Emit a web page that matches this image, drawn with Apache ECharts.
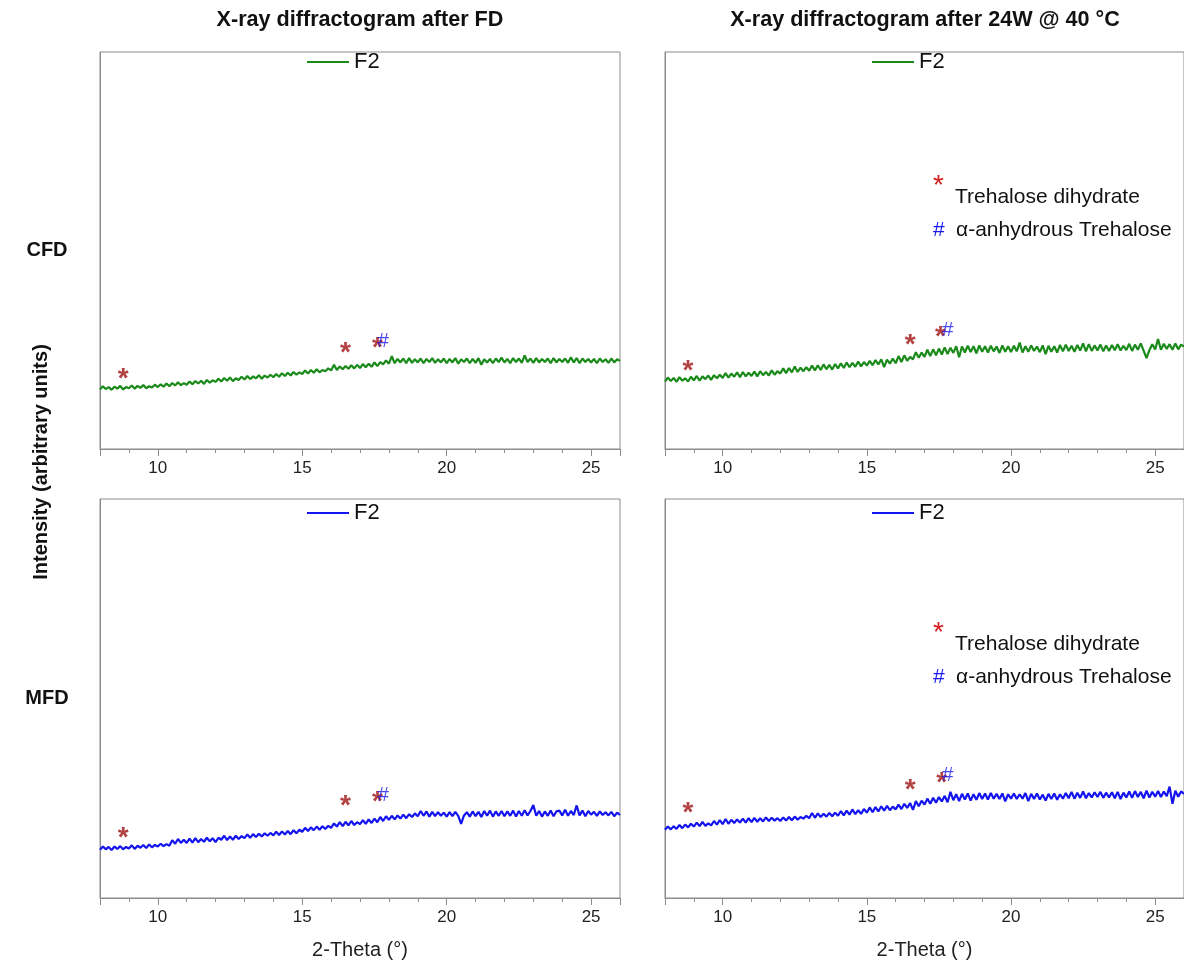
<!DOCTYPE html>
<html>
<head>
<meta charset="utf-8">
<script src="https://cdn.jsdelivr.net/npm/echarts@6/dist/echarts.min.js"></script>
<style>
  html, body { margin: 0; padding: 0; background: #fff; }
  #xrd { width: 1184px; height: 965px; }
</style>
</head>
<body>
<div id="xrd"></div>
<script>
// scan starts at 8 deg, 0.1 deg step, up to 26 deg
const thetaStart = 8;
const thetaStep = 0.1;

// intensities (arbitrary units, 0-100 panel scale)
const cfdFD = [
  15.0,15.8,15.1,15.6,14.9,15.7,15.2,15.9,15.0,15.6,
  15.3,16.0,15.2,15.9,15.4,16.1,15.3,15.8,15.5,16.2,
  15.6,16.3,15.7,16.5,15.8,16.6,16.0,16.8,16.1,16.6,
  16.2,17.0,16.3,17.1,16.5,17.2,16.4,17.4,16.7,17.3,
  16.9,17.7,17.0,17.9,17.2,18.0,17.1,17.8,17.4,18.2,
  17.5,18.4,17.6,18.3,17.8,18.6,17.7,18.5,18.0,18.7,
  18.1,18.9,18.2,19.1,18.4,19.2,18.5,19.4,18.7,19.3,
  18.9,19.8,19.0,19.9,19.2,20.1,19.3,19.9,19.6,20.3,
  19.8,21.2,19.9,20.8,20.1,20.9,20.2,21.1,20.3,21.2,
  20.4,21.4,20.6,21.5,20.7,21.8,20.9,21.9,21.3,22.3,
  21.5,23.4,21.6,22.7,21.8,22.8,21.6,22.9,21.7,22.6,
  21.8,22.8,21.6,22.7,21.9,22.9,21.7,22.6,21.8,22.8,
  21.6,22.7,21.8,22.9,21.5,22.6,21.9,22.8,21.6,22.7,
  21.7,22.9,21.2,22.6,21.8,22.7,21.6,22.8,21.9,23.0,
  21.8,22.7,21.6,22.9,21.9,22.8,21.7,23.6,21.9,22.8,
  21.7,22.9,21.8,22.7,21.9,22.8,21.6,22.9,21.8,22.7,
  21.9,22.8,21.7,23.1,21.8,22.9,21.6,22.8,21.9,22.7,
  21.8,22.7,21.6,22.8,21.9,22.6,21.7,22.8,21.8,22.6,
  22.2
];
const cfd24W = [
  17.0,18.0,17.1,17.9,16.9,18.1,17.2,17.8,17.0,18.2,
  17.3,18.4,17.2,18.3,17.6,18.5,17.4,18.6,17.8,18.7,
  17.9,19.1,18.0,19.0,18.2,19.3,18.1,19.4,18.3,19.2,
  18.4,19.5,18.3,19.6,18.6,19.4,18.5,19.8,18.7,19.6,
  19.0,20.3,19.1,20.4,19.3,20.8,19.4,20.5,19.6,20.6,
  19.7,21.0,19.8,21.1,19.9,21.3,20.1,21.2,20.0,21.4,
  20.3,21.6,20.4,21.8,20.6,21.7,20.7,22.0,20.8,21.9,
  21.0,22.2,21.1,22.4,21.3,22.6,20.6,22.5,21.5,22.8,
  21.6,23.4,21.9,23.6,22.2,23.2,22.6,24.4,23.0,24.3,
  23.2,25.0,23.4,25.1,23.6,25.3,23.8,25.6,23.9,25.5,
  24.2,25.9,23.1,25.8,24.3,26.0,24.4,25.9,24.1,26.1,
  24.5,25.9,24.3,26.0,24.6,25.8,24.2,26.1,24.5,25.9,
  24.4,26.0,24.6,26.8,24.3,25.9,24.5,26.1,24.7,25.8,
  24.4,26.1,23.9,26.0,24.5,25.9,24.3,26.2,24.6,26.3,
  24.7,26.0,24.5,26.2,24.8,26.6,24.6,26.4,24.7,26.1,
  24.8,26.3,24.6,26.1,24.7,26.2,24.9,26.4,24.8,26.0,
  24.9,26.5,24.7,26.3,25.0,26.6,24.8,22.9,24.9,26.4,
  25.1,27.7,25.0,26.5,25.2,26.4,25.0,26.6,25.1,26.3,
  25.8
];
const mfdFD = [
  12.1,12.9,12.2,12.8,12.0,12.9,12.3,13.0,12.2,12.8,
  12.4,13.2,12.3,13.1,12.6,13.3,12.5,13.4,12.7,13.3,
  12.9,13.6,13.0,13.5,13.1,14.5,13.6,14.8,13.8,14.6,
  13.8,14.9,13.9,15.0,14.0,14.8,14.1,15.1,14.2,15.0,
  14.0,15.1,14.6,15.6,14.5,15.4,14.6,15.6,14.8,15.5,
  15.0,15.9,15.1,16.0,15.3,16.1,15.4,16.2,15.6,16.3,
  15.7,16.6,15.8,16.7,15.9,16.8,16.0,17.0,16.2,17.1,
  16.6,17.6,16.8,17.7,17.0,17.9,17.1,18.0,17.3,18.1,
  17.6,18.7,17.9,19.0,18.0,19.1,18.2,19.3,18.3,19.0,
  18.5,19.5,18.6,19.7,18.8,19.9,19.0,20.3,19.3,20.5,
  19.6,20.6,19.7,20.7,19.9,20.9,20.0,21.0,20.3,21.2,
  20.5,21.8,20.6,21.7,20.4,21.6,20.5,21.5,20.6,21.4,
  20.4,21.5,20.5,21.6,20.6,18.6,20.7,21.5,20.4,21.7,
  20.5,21.6,20.3,21.8,20.6,21.9,20.4,21.7,20.6,21.8,
  20.5,21.7,20.6,21.9,20.4,21.8,20.6,22.0,20.7,21.8,
  23.3,20.6,21.8,20.4,21.7,20.6,21.9,20.5,21.7,21.9,
  20.7,22.1,20.6,21.8,20.8,23.2,20.7,21.9,20.5,21.8,
  20.9,21.6,20.6,21.7,20.8,21.5,20.7,21.6,20.5,21.4,
  20.8
];
const mfd24W = [
  17.1,17.9,17.2,18.0,17.3,18.3,17.5,18.4,17.7,18.6,
  17.9,18.9,18.0,19.1,18.1,18.7,18.2,19.3,18.4,19.5,
  18.5,19.8,18.6,19.6,18.8,19.7,18.9,19.9,18.9,20.0,
  19.0,20.1,19.1,20.0,19.2,20.2,19.3,20.1,19.4,20.0,
  19.3,20.2,19.4,20.3,19.5,20.4,19.6,20.3,19.9,20.6,
  20.0,21.3,20.1,21.2,20.3,21.1,20.4,21.3,20.5,21.4,
  20.6,21.8,20.7,21.9,20.9,22.2,21.0,22.0,21.1,22.3,
  21.4,22.7,21.5,22.8,21.7,23.0,21.9,23.1,22.0,22.9,
  22.2,23.4,22.3,23.6,22.6,23.8,22.1,24.3,23.0,24.4,
  23.4,24.9,23.6,25.1,23.9,25.3,24.2,25.6,24.0,26.6,
  24.5,26.0,24.3,26.1,24.7,26.2,24.4,26.0,24.6,26.3,
  24.8,26.2,24.7,26.3,24.9,26.1,24.8,26.2,24.2,26.0,
  24.9,26.2,24.8,26.0,24.9,26.3,24.3,26.1,24.8,26.2,
  24.7,25.9,24.4,26.1,24.8,26.2,24.6,26.0,24.9,26.3,
  25.0,26.6,24.9,26.4,25.1,26.7,25.0,26.3,25.2,26.5,
  25.3,26.6,25.1,26.4,25.2,26.5,25.0,26.6,24.8,26.4,
  25.2,26.7,25.1,26.8,25.3,26.6,25.0,26.9,25.2,26.6,
  25.4,26.8,25.3,26.7,25.5,27.9,23.6,26.9,25.4,26.7,
  26.1
];

// reflection markers [2-theta, height]
const cfdFDDihydrate = [[8.8, 19.4], [16.5, 25.9], [17.6, 27.2]];
const cfdFDAnhydrous = [[17.8, 27.7]];
const cfd24WDihydrate = [[8.8, 21.4], [16.5, 28.0], [17.55, 30.0]];
const cfd24WAnhydrous = [[17.8, 30.5]];
const mfdFDDihydrate = [[8.8, 16.7], [16.5, 24.7], [17.6, 25.7]];
const mfdFDAnhydrous = [[17.8, 26.2]];
const mfd24WDihydrate = [[8.8, 22.9], [16.5, 28.7], [17.6, 30.4]];
const mfd24WAnhydrous = [[17.8, 31.2]];

const columnTitles = ['X-ray diffractogram after FD', 'X-ray diffractogram after 24W @ 40 °C'];
const rowLabels = ['CFD', 'MFD'];

const FONT = '"Liberation Sans", Arial, sans-serif';
const GREEN = '#1a8a1a';
const BLUE = '#1414f0';
const AXIS = '#8c8c8c';

const toPairs = vals => vals.map((v, i) => [+(thetaStart + i * thetaStep).toFixed(1), v]);

const panels = [
  { left: 100, top: 52, width: 520, height: 397, legendY: 62, data: cfdFD, star: cfdFDDihydrate, hash: cfdFDAnhydrous, color: GREEN, bottom: false, note: false },
  { left: 665, top: 52, width: 522, height: 397, legendY: 62, data: cfd24W, star: cfd24WDihydrate, hash: cfd24WAnhydrous, color: GREEN, bottom: false, note: true },
  { left: 100, top: 499, width: 520, height: 399, legendY: 513, data: mfdFD, star: mfdFDDihydrate, hash: mfdFDAnhydrous, color: BLUE, bottom: true, note: false },
  { left: 665, top: 499, width: 522, height: 399, legendY: 513, data: mfd24W, star: mfd24WDihydrate, hash: mfd24WAnhydrous, color: BLUE, bottom: true, note: true }
];

const chart = echarts.init(document.getElementById('xrd'));

const series = [];
panels.forEach((p, i) => {
  series.push({
    name: 'F2',
    type: 'line',
    xAxisIndex: i,
    yAxisIndex: i,
    data: toPairs(p.data),
    symbol: 'none',
    lineStyle: { color: p.color, width: 2.2 },
    itemStyle: { color: p.color },
    z: 2
  });
  series.push({
    name: 'Trehalose dihydrate',
    type: 'scatter',
    xAxisIndex: i,
    yAxisIndex: i,
    data: p.star,
    symbolSize: 1,
    itemStyle: { color: 'rgba(0,0,0,0)' },
    label: {
      show: true, formatter: '*', position: 'inside', offset: [0, 7],
      color: '#a01414', fontSize: 28, fontWeight: 'bold', fontFamily: FONT
    },
    z: 3
  });
  series.push({
    name: 'α-anhydrous Trehalose',
    type: 'scatter',
    xAxisIndex: i,
    yAxisIndex: i,
    data: p.hash,
    symbolSize: 1,
    itemStyle: { color: 'rgba(0,0,0,0)' },
    label: {
      show: true, formatter: '#', position: 'inside', offset: [0, 2],
      color: '#1a1aee', fontSize: 21, fontFamily: FONT
    },
    z: 3
  });
});

const legends = [];
panels.forEach(p => {
  legends.push({
    data: [{ name: 'F2', itemStyle: { color: p.color } }],
    left: p.left + 207,
    top: p.legendY - 11,
    padding: 0,
    icon: 'rect',
    itemWidth: 42,
    itemHeight: 2,
    selectedMode: false,
    textStyle: { fontSize: 22, lineHeight: 22, color: '#111', fontFamily: FONT }
  });
  if (p.note) {
    legends.push({
      data: ['Trehalose dihydrate', 'α-anhydrous Trehalose'],
      orient: 'vertical',
      left: 928,
      top: p.top + 120,
      padding: 0,
      icon: 'none',
      itemWidth: 0,
      itemGap: 12,
      selectedMode: false,
      formatter: name => name === 'Trehalose dihydrate'
        ? '{s|*}{t|' + name + '}'
        : '{h|#}{t|' + name + '}',
      textStyle: {
        fontFamily: FONT,
        rich: {
          s: { width: 22, align: 'left', color: '#d41c1c', fontSize: 28, fontFamily: FONT, padding: [0, 0, 22, 0] },
          h: { width: 23, align: 'left', color: '#1a1aee', fontSize: 21, fontFamily: FONT },
          t: { fontSize: 21, color: '#111', fontFamily: FONT, lineHeight: 24 }
        }
      }
    });
  }
});

chart.setOption({
  animation: false,
  backgroundColor: '#fff',
  textStyle: { fontFamily: FONT },
  grid: panels.map(p => ({
    left: p.left, top: p.top, width: p.width, height: p.height,
    show: true, borderColor: AXIS, borderWidth: 1, backgroundColor: 'transparent'
  })),
  xAxis: panels.map((p, i) => ({
    gridIndex: i,
    type: 'value',
    min: 8,
    max: 26,
    splitNumber: 4,
    axisLine: { onZero: false, lineStyle: { color: AXIS } },
    axisTick: { length: 7, lineStyle: { color: AXIS } },
    minorTick: { show: true, splitNumber: 5, length: 4, lineStyle: { color: AXIS } },
    splitLine: { show: false },
    axisLabel: { showMinLabel: false, showMaxLabel: false, color: '#222', fontSize: 17, margin: 11, fontFamily: FONT },
    name: p.bottom ? '2-Theta (°)' : '',
    nameLocation: 'middle',
    nameGap: 42,
    nameTextStyle: { fontSize: 20, color: '#222', fontFamily: FONT }
  })),
  yAxis: panels.map((p, i) => ({
    gridIndex: i,
    type: 'value',
    min: 0,
    max: 100,
    axisLine: { show: true, lineStyle: { color: AXIS } },
    axisTick: { show: false },
    axisLabel: { show: false },
    splitLine: { show: false }
  })),
  legend: legends,
  graphic: [
    { type: 'text', x: 360, y: 20, style: { text: columnTitles[0], align: 'center', verticalAlign: 'middle', font: 'bold 21.6px ' + FONT, fill: '#111' } },
    { type: 'text', x: 925, y: 20, style: { text: columnTitles[1], align: 'center', verticalAlign: 'middle', font: 'bold 21.6px ' + FONT, fill: '#111' } },
    { type: 'text', x: 47, y: 250, style: { text: rowLabels[0], align: 'center', verticalAlign: 'middle', font: 'bold 20px ' + FONT, fill: '#111' } },
    { type: 'text', x: 47, y: 698, style: { text: rowLabels[1], align: 'center', verticalAlign: 'middle', font: 'bold 20px ' + FONT, fill: '#111' } },
    { type: 'text', x: 41, y: 462, rotation: Math.PI / 2, style: { text: 'Intensity (arbitrary units)', align: 'center', verticalAlign: 'middle', font: 'bold 20px ' + FONT, fill: '#111' } }
  ],
  series: series
});
</script>
</body>
</html>
